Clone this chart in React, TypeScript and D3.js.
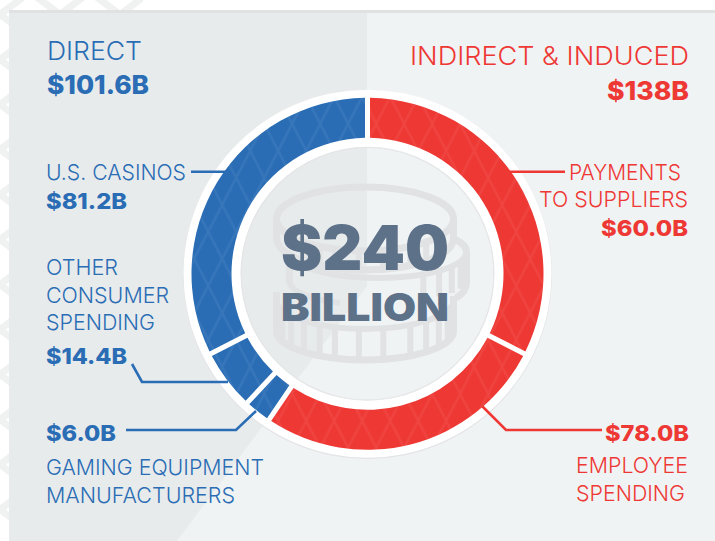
import React from "react";
import * as d3 from "d3";

const WIDTH = 715;
const HEIGHT = 541;

const BLUE = "#2a6db5";
const RED = "#ee3834";
const SLATE = "#5d7189";
const COIN = "#e0e2e4";

// clockwise from 12 o'clock
const sliceNames = ["Payments to suppliers", "Employee spending", "Gaming equipment", "Other consumer", "U.S. casinos"];
// the ring in the picture is not drawn in proportion to its labels, so these are
// the sweeps (degrees), not the dollar amounts
const sliceSweeps = [117, 97, 9, 20, 117];
const sliceColors = [RED, RED, BLUE, BLUE, BLUE];

// rim notches on the coins, degrees round the ellipse
const coinTicks = [-70, -57, -44, -31, -20, -4, 12, 31, 44, 57, 70];

const font = "Inter, sans-serif";

const Label = ({ x, y, size, fill, weight = 300, width, children }: any) => (
  <text
    x={x}
    y={y}
    fontSize={size}
    fill={fill}
    fontWeight={weight}
    fontFamily={font}
    textLength={width}
    lengthAdjust="spacingAndGlyphs"
  >
    {children}
  </text>
);

const Leader = ({ points, color }: any) => (
  <path d={d3.line()(points) ?? ""} fill="none" stroke={color} strokeWidth={2.6} />
);

const Coins = () => {
  const side = (cx: number, rx: number, ang: number) => cx + rx * Math.sin((ang * Math.PI) / 180);
  const low = (cy: number, ry: number, ang: number) => cy + ry * Math.cos((ang * Math.PI) / 180);
  const ticks = (list: number[], cx: number, rx: number, y1: number, ry1: number, y2: number, ry2: number) =>
    list.map((a) => (
      <line
        key={a}
        x1={side(cx, rx, a)}
        x2={side(cx, rx, a)}
        y1={low(y1, ry1, a)}
        y2={low(y2, ry2, a)}
        strokeWidth={6}
      />
    ));
  return (
    <g fill="none" stroke={COIN} strokeWidth={7}>
      {/* bottom coin */}
      <path d="M276.5 292 V331 A88.5 29 0 0 0 453.5 331 V296" />
      <path d="M276.5 300 A88.5 29 0 0 0 453.5 300" strokeWidth={6} />
      {ticks(coinTicks, 365, 88, 300, 29, 331, 29)}
      {/* middle coin, the parts the other two leave showing */}
      <path d="M289.5 262 V284 M452 238 Q466.5 244 466.5 252 V282 Q466.5 292 456 298" />
      <path d="M289.5 252 A88.5 26 0 0 0 466.5 252" strokeWidth={6} />
      <path d="M289.5 282 A88.5 24 0 0 0 340 303" strokeWidth={6} />
      {ticks([31, 44, 57, 70], 378, 88, 252, 26, 282, 20)}
      {/* top coin */}
      <ellipse cx={365} cy={219} rx={88.5} ry={32} />
      <path d="M276.5 219 V238 A88.5 32 0 0 0 453.5 238 V219" />
      {ticks(coinTicks.slice(2, 9), 365, 88, 219, 32, 238, 32)}
    </g>
  );
};

export default function App() {
  const cx = 367.5;
  const cy = 273.8;

  const pie = d3
    .pie<number>()
    .sort(null)
    .value((d) => d);
  const slices = pie(sliceSweeps);

  const sliceArc = d3
    .arc<d3.PieArcDatum<number>>()
    .innerRadius(136)
    .outerRadius(176)
    .padRadius(176)
    .padAngle(5 / 176);

  const band = d3
    .arc<any>()
    .innerRadius(127)
    .outerRadius(184)
    .startAngle(0)
    .endAngle(2 * Math.PI);

  const lightSide = "M367 10 H715 V541 H177 L367 286 Z";

  return (
    <svg
      width={WIDTH}
      height={HEIGHT}
      viewBox={`0 0 ${WIDTH} ${HEIGHT}`}
      style={{ position: "absolute", left: 0, top: 0 }}
    >
      <defs>
        <pattern id="lattice" width={28} height={54} patternUnits="userSpaceOnUse" patternTransform="translate(8.7 12)">
          <path d="M0 0 L28 54 M28 0 L0 54" stroke="#fff" strokeOpacity={0.06} strokeWidth={2.5} />
        </pattern>
        <pattern id="pageLattice" width={60} height={45} patternUnits="userSpaceOnUse" patternTransform="translate(-30 -8)">
          <path d="M0 0 L30 22.5 L60 0 M0 45 L30 22.5 L60 45" fill="none" stroke="#f0f1f1" strokeWidth={7} />
        </pattern>
        <clipPath id="inner">
          <circle cx={cx} cy={cy} r={126.5} />
        </clipPath>
      </defs>

      {/* page and panels */}
      <rect width={WIDTH} height={HEIGHT} fill="#fff" />
      <rect x={0} y={0} width={9} height={HEIGHT} fill="url(#pageLattice)" />
      <rect x={0} y={0} width={143} height={10} fill="url(#pageLattice)" />
      <rect x={9} y={10} width={WIDTH - 9} height={HEIGHT - 10} fill="#e8ebec" />
      <path d={lightSide} fill="#f0f3f4" />
      <rect x={9} y={10} width={WIDTH - 9} height={3} fill="#e0e1e3" />

      {/* ring base */}
      <circle cx={cx} cy={cy + 0.8} r={184.5} fill="#e2e4e6" />
      <g transform={`translate(${cx},${cy})`}>
        <path d={band({}) ?? ""} fill="#fff" fillRule="evenodd" />
      </g>
      <g clipPath="url(#inner)">
        <rect x={cx - 130} y={cy - 130} width={260} height={260} fill="#e8ebec" />
        <path d={lightSide} fill="#f0f3f4" />
        <circle cx={cx} cy={cy} r={126.5} fill="none" stroke="#e2e4e6" strokeWidth={1.5} />
        <Coins />
      </g>

      {/* leaders */}
      <Leader points={[[191, 171.7], [226, 171.7]]} color={BLUE} />
      <Leader points={[[132, 364], [142, 382], [228, 382]]} color={BLUE} />
      <Leader points={[[126, 430], [236, 430], [256, 411]]} color={BLUE} />
      <Leader points={[[510, 171.7], [565, 171.7]]} color={RED} />
      <Leader points={[[602, 430], [506, 430], [482, 406]]} color={RED} />

      {/* slices */}
      <g transform={`translate(${cx},${cy})`}>
        {slices.map((s, i) => (
          <path key={sliceNames[i]} d={sliceArc(s) ?? ""} fill={sliceColors[i]} />
        ))}
      </g>
      {slices.map((s, i) => (
        <path
          key={sliceNames[i]}
          d={sliceArc(s) ?? ""}
          transform={`translate(${cx},${cy})`}
          fill="url(#lattice)"
        />
      ))}

      {/* center */}
      <Label x={281} y={270} size={62} fill={SLATE} weight={900} width={168}>$240</Label>
      <Label x={281} y={321} size={39} fill={SLATE} weight={900} width={168}>BILLION</Label>

      {/* left side */}
      <Label x={47} y={60} size={26} fill={BLUE} width={95}>DIRECT</Label>
      <Label x={47} y={94} size={26} fill={BLUE} weight={800} width={102}>$101.6B</Label>
      <Label x={46} y={180} size={22} fill={BLUE} width={140}>U.S. CASINOS</Label>
      <Label x={46} y={209} size={22} fill={BLUE} weight={800} width={81}>$81.2B</Label>
      <Label x={46} y={275} size={22} fill={BLUE} width={72}>OTHER</Label>
      <Label x={46} y={303} size={22} fill={BLUE} width={123}>CONSUMER</Label>
      <Label x={46} y={330} size={22} fill={BLUE} width={109}>SPENDING</Label>
      <Label x={46} y={364} size={22} fill={BLUE} weight={800} width={81}>$14.4B</Label>
      <Label x={46} y={441} size={22} fill={BLUE} weight={800} width={70}>$6.0B</Label>
      <Label x={46} y={475} size={22} fill={BLUE} width={218}>GAMING EQUIPMENT</Label>
      <Label x={46} y={503} size={22} fill={BLUE} width={189}>MANUFACTURERS</Label>

      {/* right side */}
      <Label x={410} y={65} size={26} fill={RED} width={279}>INDIRECT &amp; INDUCED</Label>
      <Label x={607} y={100} size={26} fill={RED} weight={800} width={82}>$138B</Label>
      <Label x={569} y={180} size={22} fill={RED} width={112}>PAYMENTS</Label>
      <Label x={539} y={207} size={22} fill={RED} width={149}>TO SUPPLIERS</Label>
      <Label x={601} y={236} size={22} fill={RED} weight={800} width={87}>$60.0B</Label>
      <Label x={605} y={441} size={22} fill={RED} weight={800} width={84}>$78.0B</Label>
      <Label x={576} y={473} size={22} fill={RED} width={112}>EMPLOYEE</Label>
      <Label x={576} y={501} size={22} fill={RED} width={109}>SPENDING</Label>
    </svg>
  );
}
